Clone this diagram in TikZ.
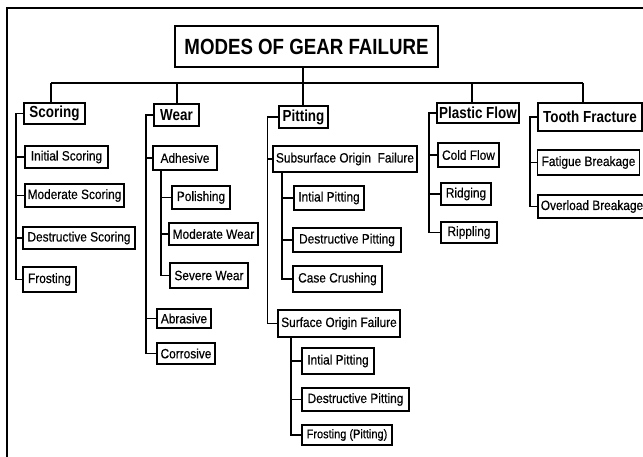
\documentclass[tikz,border=0pt]{standalone}
\usepackage{fontspec}
\newfontfamily\tfont[FakeStretch=0.85]{Liberation Sans}
\newfontfamily\cfont[FakeStretch=0.84]{Liberation Sans}
\newfontfamily\sfont[FakeStretch=0.88,FakeBold=0.4]{Liberation Sans}
\begin{document}
\begin{tikzpicture}[x=1pt,y=-1pt,
  bx/.style={draw, line width=1.4pt, inner sep=0pt, fill=white},
  ttl/.style={bx, font=\tfont\bfseries\fontsize{22}{24}\selectfont},
  cat/.style={bx, font=\cfont\bfseries\fontsize{16}{18}\selectfont},
  sub/.style={bx, font=\sfont\fontsize{13.5}{15}\selectfont},
  ln/.style={line width=1.4pt},
]
\useasboundingbox (0,0) rectangle (643,456);
\fill[white] (0,0) rectangle (643,456);
\draw[line width=2pt] (7,8) rectangle (650,462);

% title and bus
\node[ttl, minimum width=263, minimum height=41] (title) at (306.5,46.5) {MODES OF GEAR FAILURE};
\coordinate (stem) at (303,83);
\coordinate (b1) at (51,83);
\coordinate (b2) at (177,83);
\coordinate (b4) at (472,83);
\coordinate (b5) at (583,83);
\draw[ln] (stem |- title.south) -- (stem);
\draw[ln] (b1) -- (b5);

% categories
\node[cat, minimum width=61, minimum height=21] (scoring) at (54.5,113.5) {Scoring};
\node[cat, minimum width=45, minimum height=22] (wear) at (176.5,115) {Wear};
\node[cat, minimum width=49, minimum height=22] (pit) at (303.5,117) {Pitting};
\node[cat, minimum width=82, minimum height=20] (pf) at (478,113) {Plastic Flow};
\node[cat, minimum width=104, minimum height=28] (tf) at (590,117) {Tooth Fracture};

\draw[ln] (b1) -- (b1 |- scoring.north);
\draw[ln] (b2) -- (b2 |- wear.north);
\draw[ln] (stem) -- (stem |- pit.north);
\draw[ln] (b4) -- (b4 |- pf.north);
\draw[ln] (b5) -- (b5 |- tf.north);

% Scoring children
\node[sub, minimum width=83, minimum height=22] (is) at (66.5,157) {Initial Scoring};
\node[sub, minimum width=99, minimum height=23] (ms) at (74.5,195.5) {Moderate Scoring};
\node[sub, minimum width=112, minimum height=22] (ds) at (79,238) {Destructive Scoring};
\node[sub, minimum width=53, minimum height=25] (fr) at (49.5,279.5) {Frosting};
\coordinate (tS) at (16,0);
\draw[ln] (scoring.west) -- (tS |- scoring.west) -- (tS |- fr.west) -- (fr.west);
\foreach \n in {is,ms,ds} \draw[ln] (tS |- \n.west) -- (\n.west);

% Wear children
\node[sub, minimum width=64, minimum height=24] (adh) at (185,158) {Adhesive};
\node[sub, minimum width=58, minimum height=23] (pol) at (201,197.5) {Polishing};
\node[sub, minimum width=89, minimum height=22] (mw) at (213.5,234) {Moderate Wear};
\node[sub, minimum width=78, minimum height=25] (sw) at (209,275.5) {Severe Wear};
\node[sub, minimum width=54, minimum height=19] (abr) at (184,318.5) {Abrasive};
\node[sub, minimum width=58, minimum height=21] (cor) at (186,353.5) {Corrosive};
\coordinate (tW) at (146,0);
\draw[ln] (wear.west) -- (tW |- wear.west) -- (tW |- cor.west) -- (cor.west);
\foreach \n in {adh,abr} \draw[ln] (tW |- \n.west) -- (\n.west);
\coordinate (tA) at (161,0);
\draw[ln] (tA |- adh.south) -- (tA |- sw.west) -- (sw.west);
\foreach \n in {pol,mw} \draw[ln] (tA |- \n.west) -- (\n.west);

% Pitting children
\node[sub, minimum width=144, minimum height=26] (sof) at (345,159) {Subsurface Origin~ Failure};
\node[sub, minimum width=70, minimum height=24] (ipa) at (329,198) {Intial Pitting};
\node[sub, minimum width=108, minimum height=24] (dpa) at (347,240) {Destructive Pitting};
\node[sub, minimum width=89, minimum height=26] (cc) at (337.5,279) {Case Crushing};
\node[sub, minimum width=122, minimum height=27] (surf) at (339,323.5) {Surface Origin Failure};
\node[sub, minimum width=72, minimum height=26] (ipb) at (338,361) {Intial Pitting};
\node[sub, minimum width=107, minimum height=23] (dpb) at (355.5,399.5) {Destructive Pitting};
\node[sub, minimum width=90, minimum height=20, font=\sfont\fontsize{12.5}{14}\selectfont] (fp) at (347,435) {Frosting (Pitting)};
\coordinate (tP) at (267.5,0);
\draw[ln] (pit.west) -- (tP |- pit.west) -- (tP |- surf.west) -- (surf.west);
\draw[ln] (tP |- sof.west) -- (sof.west);
\coordinate (tSo) at (282,0);
\draw[ln] (tSo |- sof.south) -- (tSo |- cc.west) -- (cc.west);
\foreach \n in {ipa,dpa} \draw[ln] (tSo |- \n.west) -- (\n.west);
\coordinate (tSu) at (291,0);
\draw[ln] (tSu |- surf.south) -- (tSu |- fp.west) -- (fp.west);
\foreach \n in {ipb,dpb} \draw[ln] (tSu |- \n.west) -- (\n.west);

% Plastic flow children
\node[sub, minimum width=61, minimum height=24] (cf) at (468.5,155) {Cold Flow};
\node[sub, minimum width=50, minimum height=22] (rid) at (466,194) {Ridging};
\node[sub, minimum width=56, minimum height=21] (rip) at (469,232.5) {Rippling};
\coordinate (tF) at (429,0);
\draw[ln] (pf.west) -- (tF |- pf.west) -- (tF |- rip.west) -- (rip.west);
\foreach \n in {cf,rid} \draw[ln] (tF |- \n.west) -- (\n.west);

% Tooth fracture children
\node[sub, minimum width=102, minimum height=25] (fb) at (588.5,162.5) {Fatigue Breakage};
\node[sub, minimum width=108, minimum height=23] (ob) at (592,206.5) {Overload Breakage};
\coordinate (tT) at (530,0);
\draw[ln] (tf.west) -- (tT |- tf.west) -- (tT |- ob.west) -- (ob.west);
\draw[ln] (tT |- fb.west) -- (fb.west);
\end{tikzpicture}
\end{document}
